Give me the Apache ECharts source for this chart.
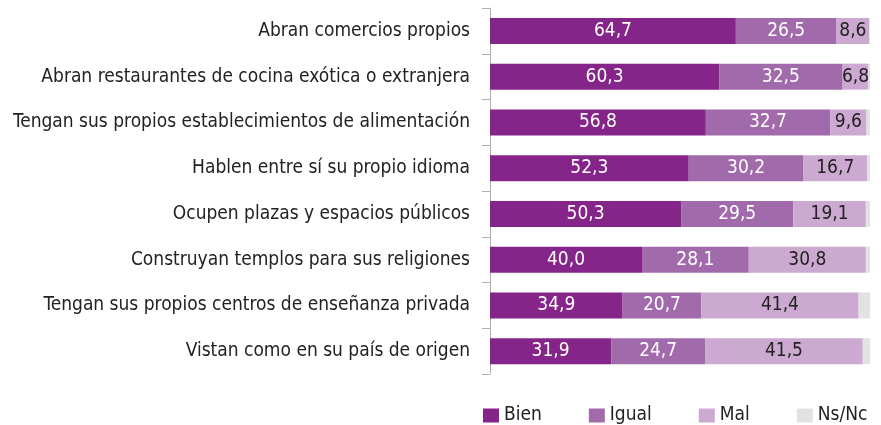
<!DOCTYPE html>
<html>
<head>
<meta charset="utf-8">
<script src="https://cdn.jsdelivr.net/npm/echarts@6/dist/echarts.min.js"></script>
<style>
  html, body { margin: 0; padding: 0; background: #fff; }
  #chart { width: 881px; height: 425px; }
</style>
</head>
<body>
<div id="chart"></div>
<script>
var categories = [
  "Abran comercios propios",
  "Abran restaurantes de cocina exótica o extranjera",
  "Tengan sus propios establecimientos de alimentación",
  "Hablen entre sí su propio idioma",
  "Ocupen plazas y espacios públicos",
  "Construyan templos para sus religiones",
  "Tengan sus propios centros de enseñanza privada",
  "Vistan como en su país de origen"
];
var bien  = [64.7, 60.3, 56.8, 52.3, 50.3, 40.0, 34.9, 31.9];
var igual = [26.5, 32.5, 32.7, 30.2, 29.5, 28.1, 20.7, 24.7];
var mal   = [8.6, 6.8, 9.6, 16.7, 19.1, 30.8, 41.4, 41.5];
var nsnc  = [0.2, 0.4, 0.9, 0.8, 1.1, 1.1, 3.0, 1.9];

var FONT = '"Liberation Sans Narrow", "DejaVu Sans Condensed", "Roboto Condensed", "Noto Sans", sans-serif';

var myChart = echarts.init(document.getElementById("chart"));

function fmt(p) {
  return p.value.toFixed(1).replace(".", ",");
}

function makeSeries(name, data, color, labelColor) {
  return {
    name: name,
    type: "bar",
    stack: "total",
    data: data,
    barWidth: 26,
    itemStyle: { color: color },
    label: {
      show: labelColor !== null,
      position: "inside",
      color: labelColor,
      fontFamily: FONT,
      fontSize: 19,
      formatter: fmt
    }
  };
}

var option = {
  animation: false,
  textStyle: { fontFamily: FONT },
  grid: { left: 490, right: 11, top: 8, bottom: 51 },
  legend: {
    left: 478,
    top: 401,
    itemWidth: 16,
    itemHeight: 14,
    itemGap: 47,
    icon: "rect",
    textStyle: { fontFamily: FONT, fontSize: 19, color: "#222" },
    data: ["Bien", "Igual", "Mal", "Ns/Nc"]
  },
  xAxis: {
    type: "value",
    min: 0,
    max: 100,
    show: false
  },
  yAxis: {
    type: "category",
    inverse: true,
    data: categories,
    axisLine: { show: true, lineStyle: { color: "#b0b0b0", width: 1 } },
    axisTick: { show: true, length: 8, lineStyle: { color: "#b0b0b0" } },
    axisLabel: { margin: 20, fontFamily: FONT, fontSize: 19, color: "#222" }
  },
  series: [
    makeSeries("Bien", bien, "#852489", "#fff"),
    makeSeries("Igual", igual, "#a06aab", "#fff"),
    makeSeries("Mal", mal, "#cca9d0", "#222"),
    makeSeries("Ns/Nc", nsnc, "#e2e2e2", null)
  ]
};

myChart.setOption(option);
window.addEventListener("resize", function () {
  myChart.resize();
});
</script>
</body>
</html>
